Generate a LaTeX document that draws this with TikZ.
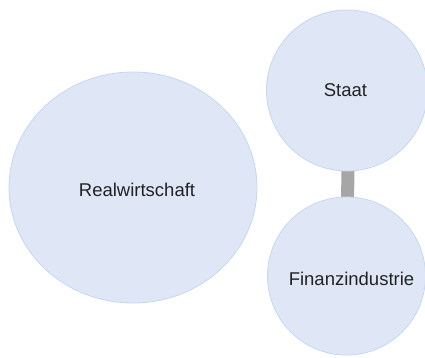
\documentclass[tikz,border=0pt]{standalone}
\usepackage{fontspec}
\setmainfont{Liberation Sans}
\usetikzlibrary{shapes.geometric,backgrounds}
\definecolor{bubblefill}{HTML}{DFE7F7}
\definecolor{bubbleline}{HTML}{C6D6F2}
\definecolor{linkgray}{HTML}{A6A6A6}
\definecolor{txt}{HTML}{222222}
\tikzset{
  bubble/.style={circle, fill=bubblefill, draw=bubbleline, line width=0.8pt, inner sep=0pt},
  bigbubble/.style={ellipse, fill=bubblefill, draw=bubbleline, line width=0.8pt, inner sep=0pt},
  lbl/.style={font=\fontsize{18.5}{22}\selectfont, text=txt, inner sep=0pt},
  link/.style={draw=linkgray, line width=13pt}
}
\begin{document}
\begin{tikzpicture}[x=1pt,y=1pt]
\useasboundingbox (0,0) rectangle (425,357);
\node[bigbubble, minimum width=248pt, minimum height=231pt] (real) at (133,169.5) {};
\node[lbl] (reallbl) at (137,167) {Realwirtschaft};
\node[bubble, minimum size=161pt] (staat) at (347,266.5) {};
\node[lbl] (staatlbl) at (345.5,267) {Staat};
\node[bubble, minimum size=158pt] (fin) at (346.5,81) {};
\node[lbl] (finlbl) at (351.5,78) {Finanzindustrie};
\begin{scope}[on background layer]
\draw[link] ([xshift=1pt]staat.center) -- ([xshift=1pt]fin.center);
\end{scope}
\end{tikzpicture}
\end{document}
